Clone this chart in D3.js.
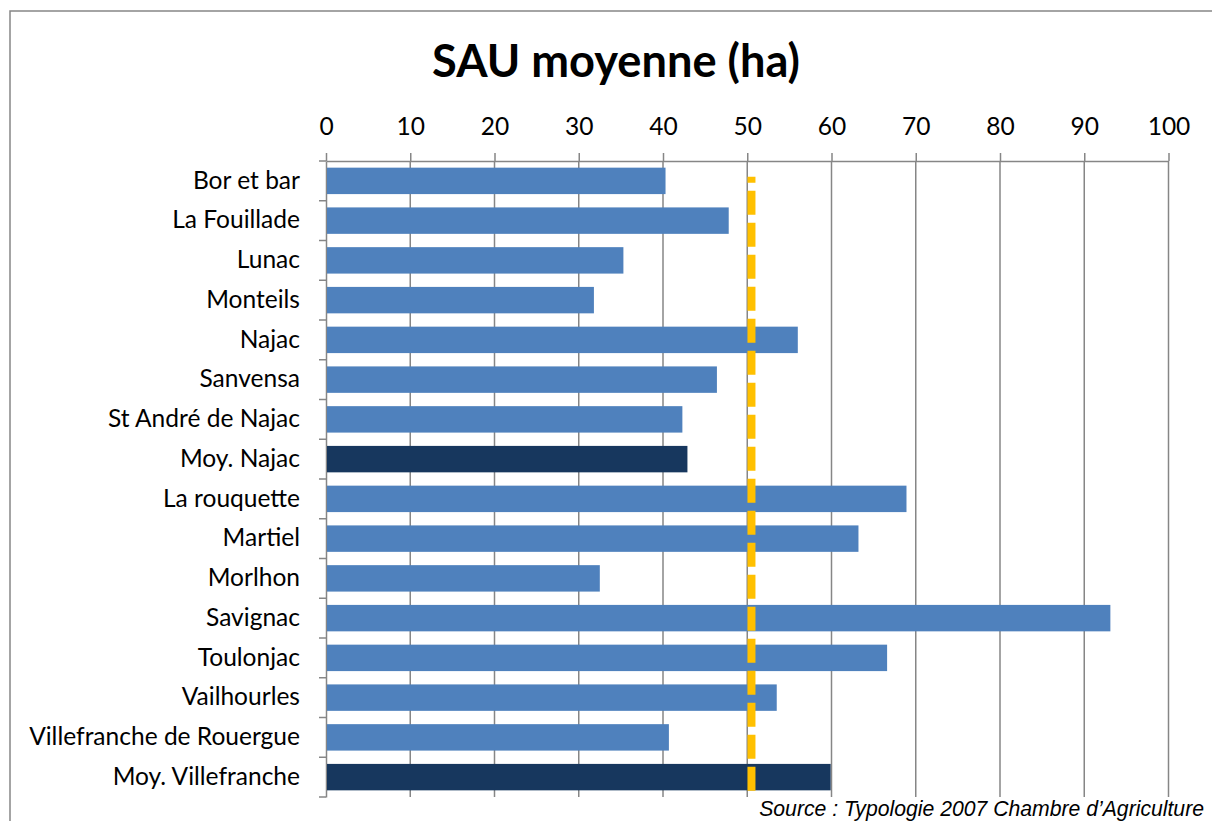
<!DOCTYPE html>
<html><head><meta charset="utf-8">
<script src="https://cdn.jsdelivr.net/npm/d3@7"></script>
<style>
html,body{margin:0;padding:0;background:#fff;}
svg{display:block;}
</style></head>
<body>
<svg id="chart" width="1212" height="821"></svg>
<script>
const categories = ["Bor et bar","La Fouillade","Lunac","Monteils","Najac","Sanvensa","St André de Najac","Moy. Najac","La rouquette","Martiel","Morlhon","Savignac","Toulonjac","Vailhourles","Villefranche de Rouergue","Moy. Villefranche"];
const values = [40.3,47.8,35.3,31.8,56.0,46.4,42.3,42.9,68.9,63.2,32.5,93.1,66.6,53.5,40.7,59.9];
const averageCats = ["Moy. Najac","Moy. Villefranche"];
const referenceValue = 50.5;
const tickValues = [0,10,20,30,40,50,60,70,80,90,100];
const title = "SAU moyenne (ha)";
const source = "Source : Typologie 2007 Chambre d\u2019Agriculture";

const svg = d3.select("#chart");
const L = 326, R = 1168.5, T = 161, B = 797;
const grey = "#868686";

// chart border
svg.append("rect").attr("x",10).attr("y",11).attr("width",1250).attr("height",850)
  .attr("fill","none").attr("stroke",grey).attr("stroke-width",1.5);

const x = d3.scaleLinear().domain([0,100]).range([L,R]);
const y = d3.scaleBand().domain(categories).range([T,B]).paddingInner(0.335).paddingOuter(0.1675);

const font = "Lato, Carlito, Calibri, sans-serif";

// gridlines
svg.append("g").selectAll("line").data(tickValues.slice(1)).join("line")
  .attr("x1",d=>x(d)).attr("x2",d=>x(d)).attr("y1",T).attr("y2",B)
  .attr("stroke",grey).attr("stroke-width",1.5);

// top axis
const xAxis = d3.axisTop(x).tickValues(tickValues).tickSize(8).tickPadding(18).tickSizeOuter(0);
const gx = svg.append("g").attr("transform",`translate(0,${T})`).call(xAxis);
gx.select(".domain").attr("stroke",grey).attr("stroke-width",1.5);
gx.selectAll(".tick line").attr("stroke",grey).attr("stroke-width",1.5);
gx.selectAll(".tick text").attr("fill","#000").attr("font-family",font).attr("font-size",24);

// left axis
const yAxis = d3.axisLeft(y).tickSize(0).tickPadding(26);
const gy = svg.append("g").attr("transform",`translate(${L},0)`).call(yAxis);
gy.select(".domain").attr("stroke",grey).attr("stroke-width",1.5);
gy.selectAll(".tick text").attr("fill","#000").attr("font-family",font).attr("font-size",22);
// category boundary ticks
const bounds = categories.map(c => y(c) - y.step()*y.paddingInner()/2).concat([B]);
svg.append("g").selectAll("line").data(bounds).join("line")
  .attr("x1",L-7).attr("x2",L).attr("y1",d=>d).attr("y2",d=>d)
  .attr("stroke",grey).attr("stroke-width",1.5);

// fit label font size to reference width of longest label
const longest = gy.selectAll(".tick text").filter(d=>d==="Villefranche de Rouergue").node();
const w = longest.getComputedTextLength();
const fs = 22 * 271 / w;
gy.selectAll(".tick text").attr("font-size",fs);
gx.selectAll(".tick text").attr("font-size",fs);

// bars
svg.append("g").selectAll("rect").data(categories).join("rect")
  .attr("x",x(0)+1).attr("y",d=>y(d))
  .attr("width",(d,i)=>x(values[i])-x(0)-1).attr("height",y.bandwidth())
  .attr("fill",d=>averageCats.includes(d)?"#17375E":"#4F81BD");

// reference dashed line
const y1 = y(categories[0]) + 9, y2 = B - 3;
svg.append("line").attr("x1",x(referenceValue)).attr("x2",x(referenceValue))
  .attr("y1",y1).attr("y2",y2)
  .attr("stroke","#FFC000").attr("stroke-width",8)
  .attr("stroke-dasharray","24 8").attr("stroke-dashoffset",18);

// title
const t = svg.append("text").attr("x",616).attr("y",77).attr("text-anchor","middle")
  .attr("font-family",font).attr("font-weight","bold").attr("font-size",34).text(title);
const tw = t.node().getComputedTextLength();
t.attr("font-size",34*368/tw);

// source
const s = svg.append("text").attr("x",1204).attr("y",816).attr("text-anchor","end")
  .attr("font-family","'Liberation Sans', Arial, sans-serif").attr("font-style","italic")
  .attr("font-size",20).attr("fill","#000").text(source);
const sw = s.node().getComputedTextLength();
s.attr("font-size",20*445/sw);
</script>
</body></html>
